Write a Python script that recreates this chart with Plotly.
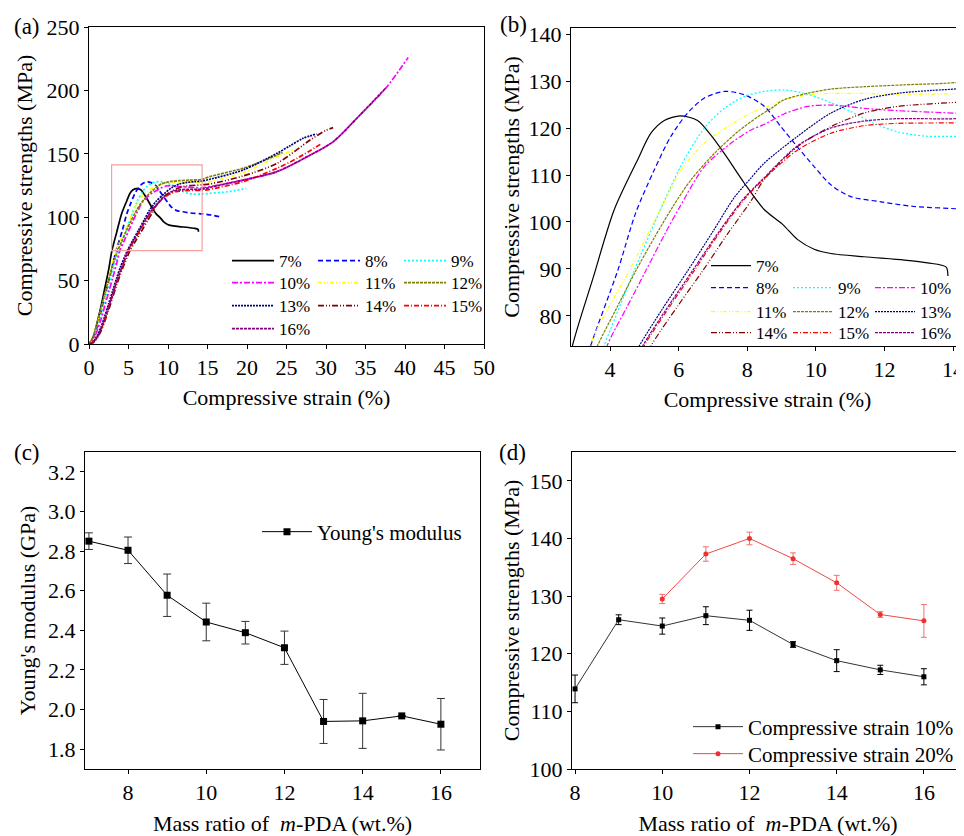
import plotly.graph_objects as go

FONT = "Liberation Serif, Times New Roman, serif"
OFF = 8                      # page offset of the figure (default body margin)
W, H = 964 - OFF, 836 - OFF

# ---------------- data: stress-strain curves (panels a, b) ----------------
series_labels = ["7%", "8%", "9%", "10%", "11%", "12%", "13%", "14%", "15%", "16%"]

strain_7 = [0, 0.5, 1, 1.5, 2, 2.5, 2.9, 3.5, 4.12, 4.8, 5.19, 5.58, 6.05, 6.55, 6.94, 7.33, 7.91, 8.5, 9.03, 9.46, 9.95, 10.44, 11.41, 12.58, 13.26, 13.8, 13.85]
stress_7 = [0, 5, 16, 29, 44, 59, 73.6, 88, 102.6, 113.2, 118.9, 121.6, 122.6, 121.6, 118.5, 114.6, 108.3, 102.6, 99.5, 96.3, 94.2, 93.3, 92.6, 91.9, 91.3, 90.4, 88.5]

strain_8 = [0, 0.5, 1, 1.5, 2, 2.5, 3, 3.43, 4.22, 4.75, 5.29, 5.77, 6.26, 6.75, 7.33, 7.91, 8.5, 8.98, 9.46, 9.95, 10.44, 11.02, 11.9, 12.87, 14.33, 15.5, 16.54]
stress_8 = [0, 4, 13, 25, 38, 50, 63, 73.6, 89.6, 102.0, 111.1, 118.2, 123.2, 126.4, 127.8, 127.1, 124.6, 120.3, 116.0, 111.8, 107.9, 105.4, 104.3, 103.3, 102.7, 101.7, 100.4]

strain_9 = [0, 0.5, 1, 1.5, 2, 2.5, 3, 3.5, 3.82, 4.7, 5.4, 6.07, 6.75, 7.33, 7.91, 8.5, 9.07, 9.66, 10.24, 11.02, 11.7, 12.38, 13.16, 14.33, 15.3, 17.5, 19.9]
stress_9 = [0, 3, 11, 22, 33, 45, 57, 67.5, 73.6, 89.6, 101.5, 112.0, 120.0, 124.2, 126.7, 127.8, 128.1, 127.4, 126.0, 123.5, 121.0, 119.2, 118.3, 118.3, 118.8, 120.0, 122.7]

strain_10 = [0, 0.5, 1, 1.5, 2, 2.5, 3, 3.5, 3.91, 4.5, 5.04, 5.6, 6.0, 6.75, 7.53, 8.11, 8.5, 9.07, 9.76, 10.44, 11.41, 12.38, 13.36, 14.33, 15.3, 19.5, 23.8, 28, 30.9, 34.3, 37.6, 40.4]
stress_10 = [0, 3, 10, 19, 30, 41, 52, 63.5, 73.6, 82, 89.6, 97.5, 102.8, 111.8, 116.8, 119.6, 120.8, 123.0, 124.6, 124.9, 124.2, 123.7, 123.4, 123.2, 124.1, 129.3, 135.9, 149, 159.5, 180.6, 202, 226]

strain_11 = [0, 0.5, 1, 1.5, 2, 2.5, 3, 3.39, 4.0, 4.56, 5.0, 5.58, 6.07, 6.75, 7.43, 8.11, 8.7, 9.07, 9.95, 10.92, 12.38, 14.33, 15.3, 19.5, 23.8, 25.9]
stress_11 = [0, 5, 15, 26, 38, 51, 65, 73.6, 82.4, 89.6, 96, 104.3, 111.1, 116.8, 120.3, 123.2, 124.9, 126.1, 127.2, 127.4, 127.2, 127.4, 128.0, 135.1, 147.7, 153]

strain_12 = [0, 0.5, 1, 1.5, 2, 2.5, 3, 3.63, 4.2, 4.75, 5.3, 5.85, 6.36, 7.04, 7.72, 8.31, 8.7, 9.07, 9.76, 10.44, 11.41, 12.58, 14.33, 15.3, 19.5, 22.5, 24.5]
stress_12 = [0, 5, 16, 28, 40, 51, 62, 73.6, 81.8, 89.6, 96.8, 103.5, 109.0, 114.6, 119.2, 122.4, 124.2, 126.0, 127.4, 128.3, 128.8, 129.2, 129.9, 132.0, 138.6, 145.5, 151]

strain_13 = [0, 0.5, 1, 1.5, 2, 2.5, 3, 3.5, 4, 4.5, 4.85, 5.5, 6.26, 7.0, 7.62, 8.1, 8.49, 9.46, 10.44, 11.41, 12.38, 13.36, 14.33, 15.3, 19.5, 23.8, 25.4, 27.1, 28.8]
stress_13 = [0, 1.5, 6, 13, 22, 32, 42, 52, 61, 68.5, 73.6, 81.2, 89.6, 98.0, 105.2, 109.3, 112.5, 118.2, 123.2, 126.1, 127.4, 128.0, 128.5, 129.9, 137.2, 150.4, 156.2, 162.2, 165.6]

strain_14 = [0, 0.5, 1, 1.5, 2, 2.5, 3, 3.5, 4, 4.5, 5.19, 6.0, 6.7, 7.4, 8.11, 8.49, 9.46, 10.44, 11.41, 12.38, 14.33, 15.3, 19.5, 23.8, 28, 30, 30.9]
stress_14 = [0, 1, 4.5, 10, 18, 27, 37, 46.5, 55.5, 63.5, 73.6, 82.4, 89.6, 97.2, 104.5, 109.0, 116.0, 120.3, 123.2, 124.6, 125.6, 126.2, 132.5, 142.5, 160.9, 168.5, 170.6]

strain_15 = [0, 0.5, 1, 1.5, 2, 2.5, 3, 3.5, 4, 4.5, 4.99, 5.6, 6.45, 7.2, 7.91, 8.49, 9.46, 10.44, 11.41, 12.38, 14.33, 15.3, 19.5, 23.8, 26.5, 29.5]
stress_15 = [0, 1.2, 5, 11, 19.5, 29, 39, 48.5, 57.5, 66, 73.6, 80.5, 89.6, 97.8, 104.8, 109.2, 115.3, 118.9, 120.5, 121.0, 121.2, 122.0, 128.0, 138.6, 147, 158.3]

strain_16 = [0, 0.5, 1, 1.5, 2, 2.5, 3, 3.5, 4, 4.5, 4.95, 5.6, 6.4, 7.2, 7.9, 8.49, 9.46, 10.44, 11.41, 12.38, 14.33, 15.3, 19.5, 23.8, 28, 30.9, 34.3, 37.6]
stress_16 = [0, 1.2, 5, 11.5, 20, 29.5, 39.5, 49, 58, 66.5, 73.6, 81, 89.6, 98.2, 105, 109.4, 116.2, 120.0, 121.5, 122.0, 122.1, 123.5, 129.3, 136, 149, 159.5, 180.6, 202.1]

# zoomed window of panel (b), marked in panel (a)
zoom_strain = [2.86, 14.32]
zoom_stress = [73.6, 141.3]

# ---------------- data: panel c ----------------
mass_c = [7, 8, 9, 10, 11, 12, 13, 14, 15, 16]
young_modulus = [2.85, 2.804, 2.577, 2.442, 2.388, 2.312, 1.940, 1.943, 1.968, 1.926]
young_err = [0.042, 0.067, 0.107, 0.095, 0.057, 0.084, 0.111, 0.139, 0.0, 0.13]

# ---------------- data: panel d ----------------
mass_d10 = [8, 9, 10, 11, 12, 13, 14, 15, 16]
strength_10 = [113.9, 125.9, 124.8, 126.6, 125.8, 121.6, 118.8, 117.2, 116.0]
strength_10_err = [2.4, 0.85, 1.4, 1.55, 1.75, 0.5, 1.9, 0.8, 1.4]
mass_d20 = [10, 11, 12, 13, 14, 15, 16]
strength_20 = [129.5, 137.3, 140.0, 136.5, 132.3, 126.8, 125.7]
strength_20_err = [0.8, 1.25, 1.1, 1.0, 1.3, 0.5, 2.85]

strains = [strain_7, strain_8, strain_9, strain_10, strain_11, strain_12, strain_13, strain_14, strain_15, strain_16]
stresses = [stress_7, stress_8, stress_9, stress_10, stress_11, stress_12, stress_13, stress_14, stress_15, stress_16]

colors = ["#000000", "#0000ff", "#00ffff", "#ff00ff", "#ffff00", "#808000", "#000080", "#800000", "#ff0000", "#800080"]
dashes = ["solid", "5px,3px", "2px,2px", "6px,2px,2px,2px", "4px,2px,1px,2px,1px,2px",
          "3px,1px", "2px,1px", "6px,2px,1px,2px,1px,2px", "5px,2px,1px,2px", "3px,1px"]

legend_rows_a = [[0, 1, 2], [3, 4, 5], [6, 7, 8], [9]]
legend_rows_b = [[0], [1, 2, 3], [4, 5, 6], [7, 8, 9]]


def px_x(p):
    return (p - OFF) / W


def px_y(p):
    return 1 - (p - OFF) / H


fig = go.Figure()

# panel a traces
leg_a = {}
for r, row in enumerate(legend_rows_a):
    for i in row:
        leg_a[i] = "legend" if r == 0 else "legend%d" % (r + 1)
for i in range(10):
    fig.add_trace(go.Scatter(x=strains[i], y=stresses[i], mode="lines", name=series_labels[i],
                             line=dict(color=colors[i], dash=dashes[i], width=1.7, shape="spline", smoothing=0.8),
                             xaxis="x", yaxis="y", legend=leg_a[i], showlegend=True))
# panel b traces
leg_b = {}
for r, row in enumerate(legend_rows_b):
    for i in row:
        leg_b[i] = "legend%d" % (r + 5)
order_b = [i for row in legend_rows_b for i in row]
for i in order_b:
    fig.add_trace(go.Scatter(x=strains[i], y=stresses[i], mode="lines", name=series_labels[i],
                             line=dict(color=colors[i], dash=dashes[i], width=1.2, shape="spline", smoothing=0.8),
                             xaxis="x2", yaxis="y2", legend=leg_b[i], showlegend=True))

# panel c
fig.add_trace(go.Scatter(x=mass_c, y=young_modulus, mode="lines+markers", name="Young's modulus",
                         line=dict(color="black", width=1), marker=dict(symbol="square", size=7, color="black"),
                         error_y=dict(type="data", array=young_err, color="#333333", thickness=1, width=4),
                         xaxis="x3", yaxis="y3", legend="legend9"))
# panel d
fig.add_trace(go.Scatter(x=mass_d10, y=strength_10, mode="lines+markers", name="Compressive strain 10%",
                         line=dict(color="#333333", width=1), marker=dict(symbol="square", size=5, color="black"),
                         error_y=dict(type="data", array=strength_10_err, color="black", thickness=1, width=3),
                         xaxis="x4", yaxis="y4", legend="legend10"))
fig.add_trace(go.Scatter(x=mass_d20, y=strength_20, mode="lines+markers", name="Compressive strain 20%",
                         line=dict(color="#f04848", width=1), marker=dict(symbol="circle", size=5, color="#f03030"),
                         error_y=dict(type="data", array=strength_20_err, color="#f07070", thickness=1, width=3),
                         xaxis="x4", yaxis="y4", legend="legend11"))

tickfont = dict(family=FONT, size=22, color="black")
titlefont = dict(family=FONT, size=22, color="black")


def axis(domain, rng, dtick, anchor, title, mirror=True, standoff=10, tickformat=None, tick0=None):
    d = dict(domain=domain, range=rng, dtick=dtick, anchor=anchor, showline=True, linecolor="black",
             linewidth=1, mirror=mirror, ticks="outside", ticklen=4, tickcolor="black", showgrid=False,
             zeroline=False, tickfont=tickfont, automargin=False, ticklabeloverflow="allow",
             title=dict(text=title, font=titlefont, standoff=standoff))
    if tickformat:
        d["tickformat"] = tickformat
    if tick0 is not None:
        d["tick0"] = tick0
    return d


dom_a_x = [px_x(89), px_x(484)]
dom_a_y = [px_y(344), px_y(27)]
dom_b_x = [px_x(571), 1.0]
dom_b_y = [px_y(346), px_y(28)]
dom_c_x = [px_x(85), px_x(480)]
dom_c_y = [px_y(769), px_y(452)]
dom_d_x = [px_x(572), 1.0]
dom_d_y = [px_y(769), px_y(452)]

ytitle_cs = "Compressive strengths (MPa)"
xtitle_strain = "Compressive strain (%)"
xtitle_mass = "Mass ratio of \u00a0<i>m</i>-PDA (wt.%)"

legends = {}
rows_a_y = [261, 283, 306, 329]
rows_b_y = [266, 288, 312, 333]
common_leg = dict(orientation="h", xanchor="left", yanchor="middle", bgcolor="rgba(0,0,0,0)",
                  font=dict(family=FONT, size=17, color="black"), entrywidthmode="pixels",
                  tracegroupgap=0, borderwidth=0)
for r in range(4):
    key = "legend" if r == 0 else "legend%d" % (r + 1)
    legends[key] = dict(common_leg, x=px_x(227), y=px_y(rows_a_y[r]), itemwidth=42, entrywidth=29)
for r in range(4):
    key = "legend%d" % (r + 5)
    legends[key] = dict(common_leg, x=px_x(706), y=px_y(rows_b_y[r]), itemwidth=40, entrywidth=27)
leg_big = dict(orientation="v", xanchor="left", yanchor="middle", bgcolor="rgba(0,0,0,0)",
               font=dict(family=FONT, size=21, color="black"), itemwidth=50, borderwidth=0)
legends["legend9"] = dict(leg_big, x=px_x(257), y=px_y(532))
legends["legend10"] = dict(leg_big, x=px_x(688), y=px_y(727))
legends["legend11"] = dict(leg_big, x=px_x(688), y=px_y(754))

fig.update_layout(
    width=W, height=H, margin=dict(l=0, r=0, t=0, b=0, autoexpand=False),
    paper_bgcolor="white", plot_bgcolor="white",
    font=dict(family=FONT, color="black"),
    xaxis=axis(dom_a_x, [0, 50], 5, "y", xtitle_strain),
    yaxis=axis(dom_a_y, [0, 250], 50, "x", ytitle_cs, standoff=7),
    xaxis2=axis(dom_b_x, zoom_strain, 2, "y2", xtitle_strain),
    yaxis2=axis(dom_b_y, zoom_stress, 10, "x2", ytitle_cs, mirror=False, standoff=2),
    xaxis3=axis(dom_c_x, [6.9, 17.0], 2, "y3", xtitle_mass, standoff=13),
    yaxis3=axis(dom_c_y, [1.7, 3.3], 0.2, "x3", "Young's modulus (GPa)", standoff=6, tickformat=".1f", tick0=1.8),
    xaxis4=axis(dom_d_x, [7.93, 16.92], 2, "y4", xtitle_mass, standoff=13),
    yaxis4=axis(dom_d_y, [100, 155], 10, "x4", ytitle_cs, mirror=False, standoff=3),
    **legends,
)

# panel (a) zoom-window box
fig.add_shape(type="rect", xref="x", yref="y", x0=zoom_strain[0], x1=zoom_strain[1],
              y0=zoom_stress[0], y1=zoom_stress[1], line=dict(color="#f4a0a0", width=1.2))
fig.update_layout(xaxis4=dict(mirror=True), xaxis2=dict(mirror=True))

panel_labels = [("(a)", 12, 27), ("(b)", 498, 25), ("(c)", 12, 452), ("(d)", 497, 452)]
for txt, x, y in panel_labels:
    fig.add_annotation(text=txt, xref="paper", yref="paper", x=px_x(x), y=px_y(y), xanchor="left",
                       yanchor="middle", showarrow=False, font=dict(family=FONT, size=23, color="black"))

fig.write_html("out.html")
